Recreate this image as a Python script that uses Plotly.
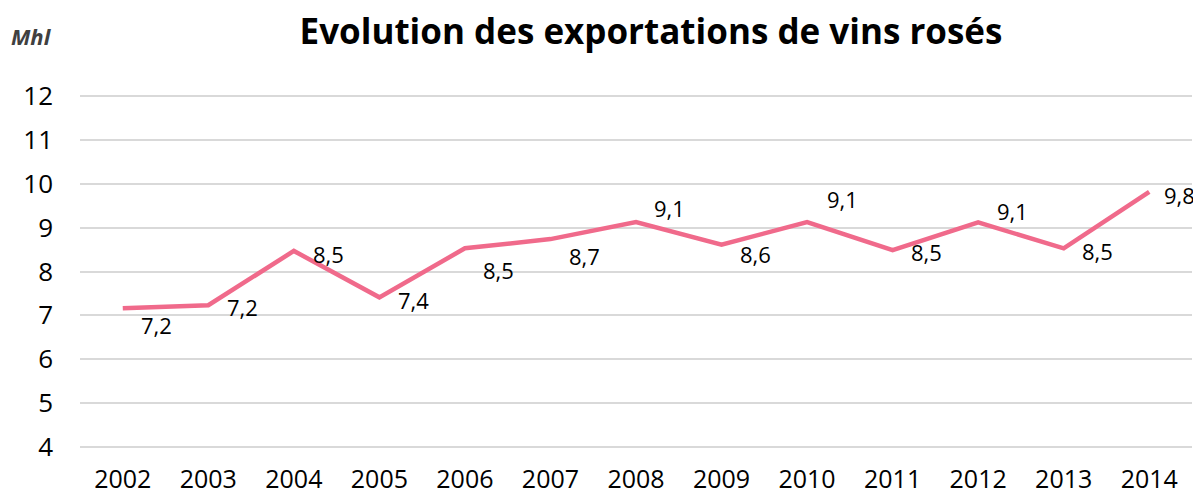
import plotly.graph_objects as go

years = ["2002", "2003", "2004", "2005", "2006", "2007", "2008",
         "2009", "2010", "2011", "2012", "2013", "2014"]
exports_mhl = [7.16, 7.23, 8.47, 7.41, 8.53, 8.74, 9.13, 8.61, 9.13, 8.49, 9.12, 8.53, 9.82]
value_labels = ["7,2", "7,2", "8,5", "7,4", "8,5", "8,7", "9,1", "8,6", "9,1", "8,5", "9,1", "8,5", "9,8"]
y_ticks = [4, 5, 6, 7, 8, 9, 10, 11, 12]

# label offsets in pixels (dx right, dy down)
label_dx = [34, 34, 35, 34, 34, 34, 33, 34, 35, 34, 34, 34, 30]
label_dy = [17, 2, 3, 3, 22, 17, -14, 9, -23, 2, -11, 3, 3]

FONT = "Open Sans"
LINE_COLOR = "#F06A8B"

# the page body adds an 8px offset, so the figure is sized to fit the window
W, H = 1193, 489

fig = go.Figure()
fig.add_trace(go.Scatter(
    x=years, y=exports_mhl, mode="lines",
    line=dict(color=LINE_COLOR, width=4.5),
    hoverinfo="x+y", showlegend=False,
))

annotations = []
for i, (v, t, dx, dy) in enumerate(zip(exports_mhl, value_labels, label_dx, label_dy)):
    annotations.append(dict(
        x=i, y=v, xref="x", yref="y", text=t, showarrow=False,
        xanchor="center", yanchor="middle", xshift=dx, yshift=-dy,
        font=dict(family=FONT, size=22, color="#000000"),
    ))
annotations.append(dict(
    x=-71 / 1112, y=1.168, xref="paper", yref="paper", text="<b><i>Mhl</i></b>",
    showarrow=False, xanchor="left", yanchor="middle",
    font=dict(family=FONT, size=22, color="#404040"),
))

fig.update_layout(
    width=W, height=H,
    margin=dict(l=72, r=9, t=87, b=49, autoexpand=False),
    paper_bgcolor="white", plot_bgcolor="white",
    title=dict(
        text="<b>Evolution des exportations de vins rosés</b>",
        x=643 / W, xanchor="center", xref="container",
        y=1 - 24 / H, yanchor="middle", yref="container",
        font=dict(family=FONT, size=35, color="#000000"),
    ),
    annotations=annotations,
    xaxis=dict(
        type="category", range=[-0.5, 12.5], automargin=False,
        showgrid=False, showline=False, zeroline=False, ticks="",
        tickfont=dict(family=FONT, size=25, color="#000000"),
        ticklabelstandoff=14,
    ),
    yaxis=dict(
        range=[3.97, 12.03], tickvals=y_ticks, showgrid=True, automargin=False,
        gridcolor="#D9D9D9", gridwidth=1.5, zeroline=False, showline=False,
        ticks="", tickfont=dict(family=FONT, size=26, color="#000000"),
        ticklabelstandoff=26,
    ),
)

fig.write_html("out.html")
